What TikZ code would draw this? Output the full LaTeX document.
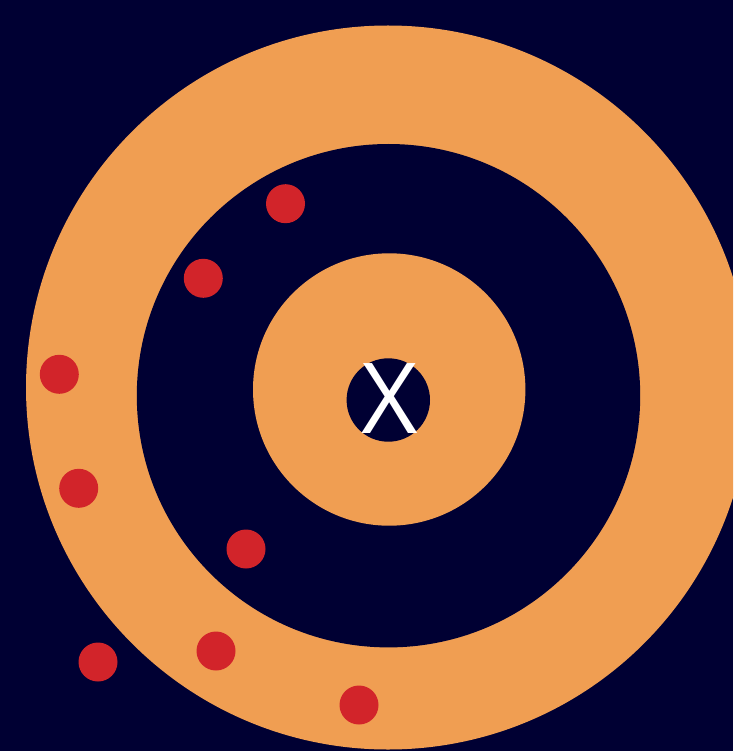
\documentclass[tikz,border=0pt]{standalone}
\usepackage{fontspec}
\newfontfamily\xfont{Open Sans}
\definecolor{navybg}{RGB}{0,0,51}
\definecolor{ringorange}{RGB}{240,158,82}
\definecolor{dotred}{RGB}{210,36,42}
\tikzset{
  disc/.style={fill=#1, draw=none},
  reddot/.style={circle, fill=dotred, draw=none, minimum size=39pt, inner sep=0pt}
}
\begin{document}
\begin{tikzpicture}[x=1pt,y=-1pt]
  \useasboundingbox (0,0) rectangle (733,751);
  \fill[navybg] (0,0) rectangle (733,751);
  \begin{scope}
    \clip (0,0) rectangle (733,751);
    \fill[disc=ringorange] (388,387.5) circle[radius=362];
    \fill[disc=navybg] (388.5,395.7) circle[radius=251.7];
    \fill[disc=ringorange] (389.2,389.5) circle[radius=136.2];
    \fill[disc=navybg] (388.3,400) circle[radius=41.7];
  \end{scope}
  \node[text=white, inner sep=0pt, anchor=center] (xlabel) at (390,399) {\xfont\fontsize{98}{98}\selectfont X};
  \node[reddot] (d1) at (285.5,203.7) {};
  \node[reddot] (d2) at (203.3,278.3) {};
  \node[reddot] (d3) at (59.3,374.3) {};
  \node[reddot] (d4) at (78.7,488.3) {};
  \node[reddot] (d5) at (246,549) {};
  \node[reddot] (d6) at (98,662) {};
  \node[reddot] (d7) at (216,651) {};
  \node[reddot] (d8) at (359,705) {};
\end{tikzpicture}
\end{document}
